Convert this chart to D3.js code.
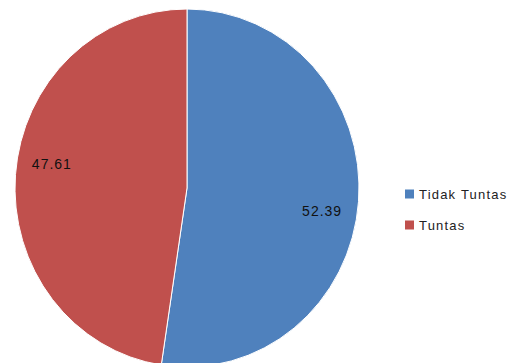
<!DOCTYPE html>
<html>
<head>
<meta charset="utf-8">
<script src="https://cdn.jsdelivr.net/npm/d3@7"></script>
<style>
  body { margin: 0; background: #fff; }
  svg { display: block; }
</style>
</head>
<body>
<div id="chart"></div>
<script>
// categories and values
var categories = ["Tidak Tuntas", "Tuntas"];
var values = [52.39, 47.61];
var labels = ["52.39", "47.61"];
var colors = ["#4f81bd", "#c0504d"];

var width = 528,
    height = 363;

// the source picture is a little stretched vertically
var cx = 187,
    cy = 188,
    radius = 172,
    ky = 179 / 172;

var svg = d3.select("#chart")
    .append("svg")
    .attr("width", width)
    .attr("height", height);

var color = d3.scaleOrdinal()
    .domain(categories)
    .range(colors);

var pie = d3.pie()
    .sort(null)
    .value(function(d, i) { return values[i]; });

var arcs = pie(categories);

var arc = d3.arc()
    .innerRadius(0)
    .outerRadius(radius);

// labels sit a little clockwise of the slice middle, like the original
var labelShift = 0.09;
var labelArc = d3.arc()
    .innerRadius(137)
    .outerRadius(137)
    .startAngle(function(d) { return d.startAngle + labelShift; })
    .endAngle(function(d) { return d.endAngle + labelShift; });

var g = svg.append("g")
    .attr("transform", "translate(" + cx + "," + cy + ")");

g.append("g")
    .attr("transform", "scale(1," + ky + ")")
    .selectAll("path")
    .data(arcs)
    .enter()
    .append("path")
    .attr("d", arc)
    .style("fill", function(d) { return color(d.data); })
    .style("stroke", "#fff")
    .style("stroke-width", 1)
    .attr("vector-effect", "non-scaling-stroke");

g.selectAll("text.val")
    .data(arcs)
    .enter()
    .append("text")
    .attr("class", "val")
    .attr("transform", function(d) {
        var c = labelArc.centroid(d);
        return "translate(" + c[0] + "," + (c[1] * ky) + ")";
    })
    .attr("dy", "0.35em")
    .attr("text-anchor", "middle")
    .style("font-size", "14px")
    .style("font-family", "Liberation Sans")
    .style("letter-spacing", "1px")
    .style("fill", "#111")
    .text(function(d, i) { return labels[i]; });

// legend
var legend = svg.append("g")
    .attr("transform", "translate(405,194)");

var item = legend.selectAll("g")
    .data(categories)
    .enter()
    .append("g")
    .attr("transform", function(d, i) { return "translate(0," + (i * 31) + ")"; });

item.append("rect")
    .attr("x", 0)
    .attr("y", -4.5)
    .attr("width", 9)
    .attr("height", 9)
    .style("fill", function(d) { return color(d); });

item.append("text")
    .attr("x", 14)
    .attr("y", 0)
    .attr("dy", "0.35em")
    .style("font-size", "13px")
    .style("font-family", "Liberation Sans")
    .style("letter-spacing", "1.2px")
    .style("fill", "#222")
    .text(function(d) { return d; });
</script>
</body>
</html>
